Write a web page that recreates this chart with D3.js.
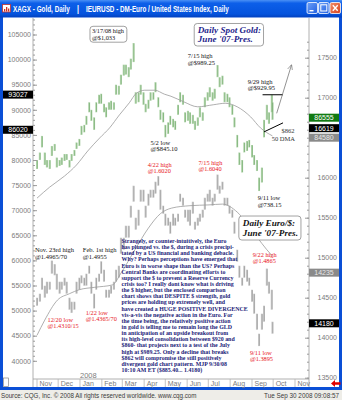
<!DOCTYPE html>
<html>
<head>
<meta charset="utf-8">
<title>Gold vs Euro, daily</title>
<script src="https://cdn.jsdelivr.net/npm/d3@7/dist/d3.min.js"></script>
<style>
  html, body { margin: 0; padding: 0; background: #fff; }
  svg { display: block; }
</style>
</head>
<body>
<svg id="chart" width="342" height="400"></svg>
<script>
// ---------------- series data ----------------
// One bar per sampled session (Mondays and Thursdays, plus the last session).
const firstBar = "2007-11-01", lastBar = "2008-09-30";

// Spot gold, US$ per ounce
const goldHigh = [
  800,815,848,815,800,800,828,832,805,800,
  805,812,812,800,812,820,835,842,868,870,
  888,915,900,885,915,930,932,912,905,915,
  918,915,950,948,970,990,990,985,1002,1033,
  935,935,950,935,912,920,935,935,955,925,
  900,895,870,875,888,882,878,910,935,930,
  895,898,895,890,878,885,905,895,925,935,
  945,935,942,989.25,965,968,935,932,925,910,
  885,850,815,800,835,838,840,830,810,800,
  765,785,880,910,895,929.95,915];
const goldLow = [
  782,800,825,790,785,782,808,818,785,788,
  790,798,800,785,798,808,822,828,850,855,
  870,895,878,860,895,912,912,895,885,900,
  900,900,930,930,950,968,970,965,980,995,
  912,915,930,910,895,902,918,920,935,905,
  880,875,845.10,852,870,865,860,890,915,910,
  875,878,872,872,860,868,885,878,905,918,
  925,918,922,965,945,950,915,915,905,890,
  865,825,790,775,815,818,825,805,790,778,
  738.15,755,845,880,872,895,880];

// Euro / US dollar
const euroHigh = [
  1.450,1.455,1.475,1.465,1.470,1.470,1.4965,1.492,1.480,1.470,
  1.470,1.475,1.470,1.450,1.445,1.445,1.470,1.475,1.478,1.475,
  1.480,1.490,1.470,1.455,1.475,1.480,1.4955,1.485,1.460,1.460,
  1.465,1.470,1.485,1.490,1.525,1.525,1.540,1.540,1.565,1.590,
  1.550,1.560,1.585,1.585,1.565,1.580,1.585,1.585,1.595,1.6020,
  1.585,1.565,1.555,1.550,1.545,1.555,1.550,1.555,1.580,1.575,
  1.560,1.560,1.560,1.570,1.545,1.550,1.555,1.560,1.575,1.580,
  1.585,1.575,1.580,1.6040,1.590,1.595,1.575,1.575,1.565,1.560,
  1.545,1.510,1.490,1.475,1.490,1.485,1.475,1.460,1.455,1.430,
  1.405,1.430,1.440,1.4865,1.470,1.460,1.420];
const euroLow = [
  1.440,1.445,1.460,1.450,1.455,1.460,1.480,1.478,1.460,1.455,
  1.460,1.465,1.455,1.435,1.4310,1.435,1.455,1.460,1.468,1.465,
  1.465,1.480,1.455,1.4365,1.460,1.470,1.480,1.470,1.450,1.450,
  1.455,1.460,1.470,1.475,1.505,1.510,1.525,1.525,1.550,1.570,
  1.535,1.540,1.570,1.570,1.550,1.565,1.575,1.575,1.580,1.590,
  1.560,1.555,1.540,1.540,1.530,1.540,1.540,1.545,1.570,1.565,
  1.550,1.545,1.540,1.555,1.535,1.540,1.545,1.550,1.560,1.570,
  1.570,1.565,1.570,1.585,1.580,1.585,1.565,1.565,1.555,1.550,
  1.530,1.495,1.475,1.465,1.475,1.470,1.465,1.445,1.430,1.410,
  1.3895,1.410,1.420,1.465,1.455,1.435,1.405];

// Moving averages
const goldAvgDays = ["2007-11-01","2007-11-19","2007-12-10","2007-12-27","2008-01-12","2008-01-29",
  "2008-02-12","2008-02-26","2008-03-11","2008-03-21","2008-04-02","2008-04-16","2008-04-30",
  "2008-05-09","2008-05-27","2008-06-16","2008-07-08","2008-07-25","2008-08-11","2008-08-30",
  "2008-09-13","2008-09-30"];
const goldAvg = [724,746,768,790,818,844,864,890,914,933,939,939,931,927,916,906,910,913,906,886,864,848];
const euroAvgDays = ["2007-11-01","2007-11-12","2007-11-30","2007-12-17","2007-12-31","2008-01-22",
  "2008-02-16","2008-02-29","2008-03-19","2008-04-07","2008-04-24","2008-05-10","2008-06-05",
  "2008-07-02","2008-07-21","2008-08-11","2008-08-25","2008-09-08","2008-09-22","2008-09-30"];
const euroAvg = [1.403,1.422,1.447,1.455,1.460,1.463,1.466,1.482,1.510,1.537,1.555,1.562,1.565,
  1.566,1.567,1.557,1.543,1.526,1.510,1.502];

// Axis tick labels
const goldTicks = [40000,45000,50000,55000,60000,65000,70000,75000,80000,85000,90000,95000,100000,105000];
const euroTicks = [13500,14000,14500,15000,15500,16000,16500,17000,17500];
const monthLabels = ["Nov","Dec","Jan","Feb","Mar","Apr","May","Jun","Jul","Aug","Sep","Oct","Nov"];

// Price flags on the axes
const goldFlags = [
  {text: "93027", value: 930.27, kind: "black"},
  {text: "86020", value: 860.20, kind: "black"}];
const euroFlags = [
  {text: "86555", value: 1.675,  kind: "green"},
  {text: "16619", value: 1.6619, kind: "black"},
  {text: "84580", value: 1.650,  kind: "gray"},
  {text: "14235", value: 1.4813, kind: "gray"},
  {text: "14180", value: 1.418,  kind: "black"}];

const commentary = [
  "Strangely, or counter-intuitively, the Euro",
  "has plunged vs. the $, during a crisis precipi-",
  "tated by a US financial and banking debacle.",
  "Why?  Perhaps perceptions have emerged that",
  "Euro is in worse shape than the US?  Perhaps",
  "Central Banks are coordinating efforts to",
  "support the $ to prevent a Reserve Currency",
  "crisis too?  I really dont know what is driving",
  "the $ higher, but the enclosed comparison",
  "chart shows that DESPITE $ strength, gold",
  "prices are holding up extremely well, and",
  "have created a HUGE POSITIVE DIVERGENCE",
  "vis-a-vis the negative action in the Euro.  For",
  "the time being, the relatively positive action",
  "in gold is telling me to remain long the GLD",
  "in anticipation of an upside breakout from",
  "its high-level consolidation between $920 and",
  "$860- that projects next to a test of the July",
  "high at $989.25.  Only a decline that breaks",
  "$862 will compromise the still positively",
  "divergent gold chart pattern.  MJP 9/30/08",
  "10:10 AM ET   ($885.40... 1.4180)"];

// ---------------- scales ----------------
const parse = d3.timeParse("%Y-%m-%d");
const barDays = d3.timeDay.range(parse(firstBar), parse(lastBar))
  .filter(d => d.getDay() === 1 || d.getDay() === 4)
  .concat([parse(lastBar)]);

const x = d3.scaleTime().domain([parse("2007-11-01"), parse("2008-11-01")]).range([37, 295]);
const yGold = d3.scaleLinear().domain([400, 1050]).range([360.8, 34.5]);
const yEuro = d3.scaleLinear().domain([1.35, 1.75]).range([377.7, 57.7]);

const plotL = 33, plotR = 309, plotT = 18, plotB = 379;

const svg = d3.select("#chart");
const defs = svg.append("defs");

// Condensed window-style text: drawn at full height, squeezed horizontally to a width.
const squeezed = (parent, x0, y0, width, str, attrs) => {
  const g = parent.append("g");
  const t = g.append("text").text(str);
  Object.entries(attrs).forEach(([k, v]) => t.attr(k, v));
  const natural = t.node().getComputedTextLength();
  g.attr("transform", `translate(${x0},${y0}) scale(${width / natural},1)`);
  return g;
};

// ---------------- window frame ----------------
const tb = defs.append("linearGradient").attr("id", "titlebar").attr("x1", 0).attr("y1", 0).attr("x2", 0).attr("y2", 1);
tb.append("stop").attr("offset", 0).attr("stop-color", "#4a90f5");
tb.append("stop").attr("offset", 0.18).attr("stop-color", "#0d5fe9");
tb.append("stop").attr("offset", 0.8).attr("stop-color", "#0553dd");
tb.append("stop").attr("offset", 1).attr("stop-color", "#0340bd");

svg.append("rect").attr("width", 342).attr("height", 400).attr("fill", "#0a4fd6");
svg.append("rect").attr("width", 342).attr("height", 17.5).attr("fill", "url(#titlebar)");
svg.append("rect").attr("x", 3).attr("y", 17.5).attr("width", 336).attr("height", 369.5).attr("fill", "#fff");
svg.append("rect").attr("x", 0).attr("y", 390).attr("width", 342).attr("height", 10).attr("fill", "#eeede8");

// title icon
svg.append("rect").attr("x", 2.5).attr("y", 4.5).attr("width", 8).attr("height", 7.5).attr("fill", "#fff").attr("stroke", "#c03030").attr("stroke-width", 0.8);
[[4, 9], [6, 7], [8, 8.5]].forEach(([bx, by]) =>
  svg.append("rect").attr("x", bx).attr("y", by).attr("width", 1.3).attr("height", 11.5 - by).attr("fill", "#d03020"));

const titleFont = "'Liberation Sans', Arial, sans-serif";
const titleAttrs = {"font-family": titleFont, "font-weight": "bold", "font-size": 8.3, fill: "#fff"};
squeezed(svg, 13, 12.3, 57, "XAGX - Gold, Daily", titleAttrs);
squeezed(svg, 77, 12.3, 2, "|", titleAttrs);
squeezed(svg, 86, 12.3, 143, "IEURUSD - DM-Euro / United States Index, Daily", titleAttrs);

// caption buttons
const btn = defs.append("linearGradient").attr("id", "btn").attr("x1", 0).attr("y1", 0).attr("x2", 1).attr("y2", 1);
btn.append("stop").attr("offset", 0).attr("stop-color", "#6fa2f8");
btn.append("stop").attr("offset", 1).attr("stop-color", "#1f5ee0");
const btnRed = defs.append("linearGradient").attr("id", "btnRed").attr("x1", 0).attr("y1", 0).attr("x2", 1).attr("y2", 1);
btnRed.append("stop").attr("offset", 0).attr("stop-color", "#f0906a");
btnRed.append("stop").attr("offset", 1).attr("stop-color", "#d8401e");
[[307, "url(#btn)"], [318.5, "url(#btn)"], [330, "url(#btnRed)"]].forEach(([bx, fill]) =>
  svg.append("rect").attr("x", bx).attr("y", 2.5).attr("width", 10.5).attr("height", 11).attr("rx", 1.5)
    .attr("fill", fill).attr("stroke", "#fff").attr("stroke-width", 0.8));
svg.append("rect").attr("x", 309.5).attr("y", 10).attr("width", 4).attr("height", 1.4).attr("fill", "#fff");
svg.append("rect").attr("x", 320.8).attr("y", 4.8).attr("width", 6).attr("height", 6.2).attr("fill", "none").attr("stroke", "#fff").attr("stroke-width", 1);
svg.append("path").attr("d", "M332.8,5.3L337.7,10.7M337.7,5.3L332.8,10.7").attr("stroke", "#fff").attr("stroke-width", 1.4);

// status bar
const statusAttrs = {"font-family": titleFont, "font-size": 7.6, fill: "#3a3a3a"};
squeezed(svg, 1, 398.3, 196, "Source: CQG, Inc. \u00A9 2008 All rights reserved worldwide. www.cqg.com", statusAttrs);
squeezed(svg, 264, 398.3, 75, "Tue Sep 30 2008 09:08:57", statusAttrs);

// ---------------- plot ----------------
const clip = defs.append("clipPath").attr("id", "plotClip");
clip.append("rect").attr("x", plotL).attr("y", plotT).attr("width", plotR - plotL).attr("height", plotB - plotT);
const plot = svg.append("g").attr("clip-path", "url(#plotClip)");

// euro bars (grey)
plot.append("g").selectAll("line").data(barDays).join("line")
  .attr("x1", d => x(d)).attr("x2", d => x(d))
  .attr("y1", (d, i) => yEuro(euroLow[i])).attr("y2", (d, i) => yEuro(euroHigh[i]))
  .attr("stroke", "#c6c6c6").attr("stroke-width", 2);
plot.append("g").selectAll("line").data(barDays).join("line")
  .attr("x1", d => x(d) + 0.3).attr("x2", d => x(d) + 0.3)
  .attr("y1", (d, i) => yEuro(euroLow[i]) - 0.5).attr("y2", (d, i) => yEuro(euroHigh[i]) + 0.5)
  .attr("stroke", "#8c8c8c").attr("stroke-width", 0.5);

// gold bars (green)
plot.append("g").selectAll("line").data(barDays).join("line")
  .attr("x1", d => x(d)).attr("x2", d => x(d))
  .attr("y1", (d, i) => yGold(goldLow[i])).attr("y2", (d, i) => yGold(goldHigh[i]))
  .attr("stroke", "#b4d6ae").attr("stroke-width", 2);
plot.append("g").selectAll("line").data(barDays).join("line")
  .attr("x1", d => x(d) + 0.3).attr("x2", d => x(d) + 0.3)
  .attr("y1", (d, i) => yGold(goldLow[i]) - 0.5).attr("y2", (d, i) => yGold(goldHigh[i]) + 0.5)
  .attr("stroke", "#5e9d58").attr("stroke-width", 0.5);

// moving averages
const avgLine = (ys) => d3.line().curve(d3.curveMonotoneX).x(d => x(parse(d[0]))).y(d => ys(d[1]));
plot.append("path").datum(d3.zip(goldAvgDays, goldAvg)).attr("d", avgLine(yGold))
  .attr("fill", "none").attr("stroke", "#9a9a9a").attr("stroke-width", 0.8);
plot.append("path").datum(d3.zip(euroAvgDays, euroAvg)).attr("d", avgLine(yEuro))
  .attr("fill", "none").attr("stroke", "#9a9a9a").attr("stroke-width", 0.8);

// ---------------- axes ----------------
const axisColor = "#9c9c9c", labelColor = "#7c7c7c", tickFont = "'Liberation Sans', Arial, sans-serif";

// tick labels that sit fully under a price flag are not drawn
const hiddenBy = (flags, scale) => v => flags.some(f => Math.abs(scale(f.value) - scale(v)) < 2.5);

// left (gold) axis
const goldHidden = hiddenBy(goldFlags, yGold);
const leftAxis = svg.append("g").attr("transform", `translate(${plotL},0)`)
  .call(d3.axisLeft(yGold).tickValues(goldTicks.map(v => v / 100).filter(v => !goldHidden(v)))
    .tickFormat(v => String(Math.round(v * 100)))
    .tickSizeInner(-4).tickSizeOuter(0).tickPadding(2));
leftAxis.select(".domain").remove();
leftAxis.selectAll("line").attr("stroke", axisColor);
leftAxis.selectAll("text").attr("font-family", tickFont).attr("font-size", 7).attr("fill", labelColor);
svg.append("g").attr("transform", `translate(${plotL},0)`)
  .call(d3.axisLeft(yGold).tickValues(d3.range(400, 1081, 10)).tickFormat("").tickSizeInner(-2).tickSizeOuter(0))
  .call(g => g.select(".domain").remove())
  .selectAll("line").attr("stroke", axisColor);

// right (euro) axis
const euroHidden = hiddenBy(euroFlags, yEuro);
const rightAxis = svg.append("g").attr("transform", `translate(${plotR},0)`)
  .call(d3.axisRight(yEuro).tickValues(euroTicks.map(v => v / 10000).filter(v => !euroHidden(v)))
    .tickFormat(v => String(Math.round(v * 10000)))
    .tickSizeInner(-4).tickSizeOuter(0).tickPadding(28));
rightAxis.select(".domain").remove();
rightAxis.selectAll("line").attr("stroke", axisColor);
rightAxis.selectAll("text").attr("text-anchor", "end").attr("font-family", tickFont).attr("font-size", 7).attr("fill", labelColor);
svg.append("g").attr("transform", `translate(${plotR},0)`)
  .call(d3.axisRight(yEuro).tickValues(d3.range(1.35, 1.7701, 0.01)).tickFormat("").tickSizeInner(-2).tickSizeOuter(0))
  .call(g => g.select(".domain").remove())
  .selectAll("line").attr("stroke", axisColor);

// frame lines
svg.append("line").attr("x1", plotL).attr("x2", plotL).attr("y1", plotT).attr("y2", 387).attr("stroke", axisColor).attr("stroke-width", 0.8);
svg.append("line").attr("x1", plotR).attr("x2", plotR).attr("y1", plotT).attr("y2", 387).attr("stroke", axisColor).attr("stroke-width", 0.8);
svg.append("line").attr("x1", plotL).attr("x2", plotR).attr("y1", plotB).attr("y2", plotB).attr("stroke", axisColor).attr("stroke-width", 0.8);

// time axis: month cells
const months = d3.timeMonth.range(parse("2007-11-01"), parse("2008-11-02"));
const monthG = svg.append("g");
monthG.selectAll("line").data(months).join("line")
  .attr("x1", d => x(d)).attr("x2", d => x(d)).attr("y1", plotB).attr("y2", 387)
  .attr("stroke", "#b4b4b4").attr("stroke-width", 0.8);
monthG.selectAll("text").data(months).join("text")
  .attr("x", d => x(d) + 2.5).attr("y", 385.6)
  .attr("font-family", tickFont).attr("font-size", 7).attr("fill", labelColor)
  .text((d, i) => monthLabels[i]);
svg.append("text").attr("x", x(parse("2008-01-01"))).attr("y", 378)
  .attr("font-family", tickFont).attr("font-size", 7.5).attr("fill", labelColor).text("2008");

// small scroll box and red arrow at the bottom corners
svg.append("rect").attr("x", 3.5).attr("y", 378).attr("width", 5).attr("height", 8.5).attr("fill", "#fff").attr("stroke", "#888").attr("stroke-width", 0.7);
svg.append("path").attr("d", "M331,383.5 L335,380 L335,382.2 L340.5,382.2 L340.5,384.8 L335,384.8 L335,387 Z").attr("fill", "#e00000");

// axis price flags
const flagFill = {black: "#000", green: "#127a12", gray: "#8a8a8a"};
const flagText = {black: "#fff", green: "#fff", gray: "#e8e8e8"};
const drawFlags = (flags, scale, x0) => {
  const g = svg.append("g");
  flags.forEach(f => {
    g.append("rect").attr("x", x0).attr("y", scale(f.value) - 4).attr("width", 30).attr("height", 8).attr("fill", flagFill[f.kind]);
    g.append("text").attr("x", x0 + 15).attr("y", scale(f.value) + 2.6).attr("text-anchor", "middle")
      .attr("font-family", tickFont).attr("font-size", 7).attr("fill", flagText[f.kind]).text(f.text);
  });
};
drawFlags(goldFlags, yGold, 3);
drawFlags(euroFlags, yEuro, plotR);

// ---------------- annotations ----------------
const serif = "'Liberation Serif', 'Times New Roman', serif";
const note = (day, y, lines, opts = {}) => {
  const t = svg.append("text").attr("font-family", serif).attr("font-size", opts.size || 6.5)
    .attr("fill", opts.color || "#111").attr("font-weight", opts.weight || "normal")
    .attr("font-style", opts.style || "normal");
  lines.forEach((s, i) => t.append("tspan").attr("x", x(parse(day))).attr("y", y + i * (opts.lead || 6.5)).text(s));
  return t;
};
const boxAround = (t, padX, padY, stroke) => {
  const b = t.node().getBBox();
  svg.insert("rect", () => t.node()).attr("x", b.x - padX).attr("y", b.y - padY)
    .attr("width", b.width + 2 * padX).attr("height", b.height + 2 * padY).attr("rx", 3)
    .attr("fill", "#fff").attr("stroke", stroke).attr("stroke-width", 0.8);
};

// gold trend lines and projection arrow
defs.append("marker").attr("id", "head").attr("viewBox", "0 0 8 8").attr("refX", 7).attr("refY", 4)
  .attr("markerWidth", 7).attr("markerHeight", 7).attr("orient", "auto")
  .append("path").attr("d", "M0,0.5 L7.5,4 L0,7.5").attr("fill", "none").attr("stroke", "#777").attr("stroke-width", 0.9);
const seg = (d1, v1, d2, v2) => `M${x(parse(d1))},${yGold(v1)}L${x(parse(d2))},${yGold(v2)}`;
svg.append("path").attr("d", seg("2008-09-16", 929.95, "2008-10-15", 929.95)).attr("stroke", "#000").attr("stroke-width", 1);
svg.append("path").attr("d", seg("2008-09-18", 856, "2008-10-15", 874)).attr("stroke", "#000").attr("stroke-width", 1);
svg.append("path").attr("d", seg("2008-10-06", 893, "2008-10-27", 989.25)).attr("stroke", "#777").attr("stroke-width", 0.8)
  .attr("fill", "none").attr("marker-end", "url(#head)");

// gold notes
const hiLabel = note("2008-01-18", yGold(1052), ["3/17/08 high", "@$1,033"], {size: 6.3});
boxAround(hiLabel, 2, 1.2, "#8a8a8a");
note("2008-06-02", yGold(1002.2), ["7/15 high", "@$989.25"]);
note("2008-04-10", yGold(829.9), ["5/2 low", "@$845.10"]);
note("2008-09-09", yGold(720.3), ["9/11 low", "@738.15"]);
note("2008-08-26", yGold(951.4), ["9/29 high", "@$929.95"]);
note("2008-10-13", yGold(853.8), ["$862"], {color: "#333"});
note("2008-09-29", yGold(836.9), ["50 DMA"], {color: "#333"});

const goldTitle = note("2008-06-16", yGold(1053), ["Daily Spot Gold:", "June '07-Pres."],
  {size: 9.2, weight: "bold", style: "italic", color: "#1f1f8c", lead: 9.5});
boxAround(goldTitle, 2.5, 1.5, "#8a8a8a");

// euro notes
const red = "#e8141b";
note("2008-04-06", yEuro(1.6134), ["4/22 high", "@1.6020"], {size: 6.3, color: red});
note("2008-06-17", yEuro(1.6159), ["7/15 high", "@1.6040"], {size: 6.3, color: red});
note("2007-10-29", yEuro(1.5071), ["Nov. 23rd high", "@1.4965/70"], {size: 6.5});
note("2008-01-05", yEuro(1.5071), ["Feb. 1st high", "@1.4955"], {size: 6.5});
note("2007-11-16", yEuro(1.4197), ["12/20 low", "@1.4310/15"], {size: 6.3, color: red});
note("2008-01-09", yEuro(1.4284), ["1/22 low", "@1.4365/70"], {size: 6.3, color: red});
note("2008-09-02", yEuro(1.5009), ["9/22 high", "@1.4865"], {size: 6.3, color: red});
note("2008-08-29", yEuro(1.3784), ["9/11 low", "@1.3895"], {size: 6.3, color: red});

const euroTitle = note("2008-08-19", yEuro(1.5396), ["Daily Euro/$:", "June '07-Pres."],
  {size: 9.2, weight: "bold", style: "italic", color: "#111", lead: 10});
boxAround(euroTitle, 3, 2, "#8a8a8a");

// commentary
note("2008-02-29", yEuro(1.5184), commentary,
  {size: 5.9, weight: "bold", color: "#1b1b78", lead: 6.14});
</script>
</body>
</html>
